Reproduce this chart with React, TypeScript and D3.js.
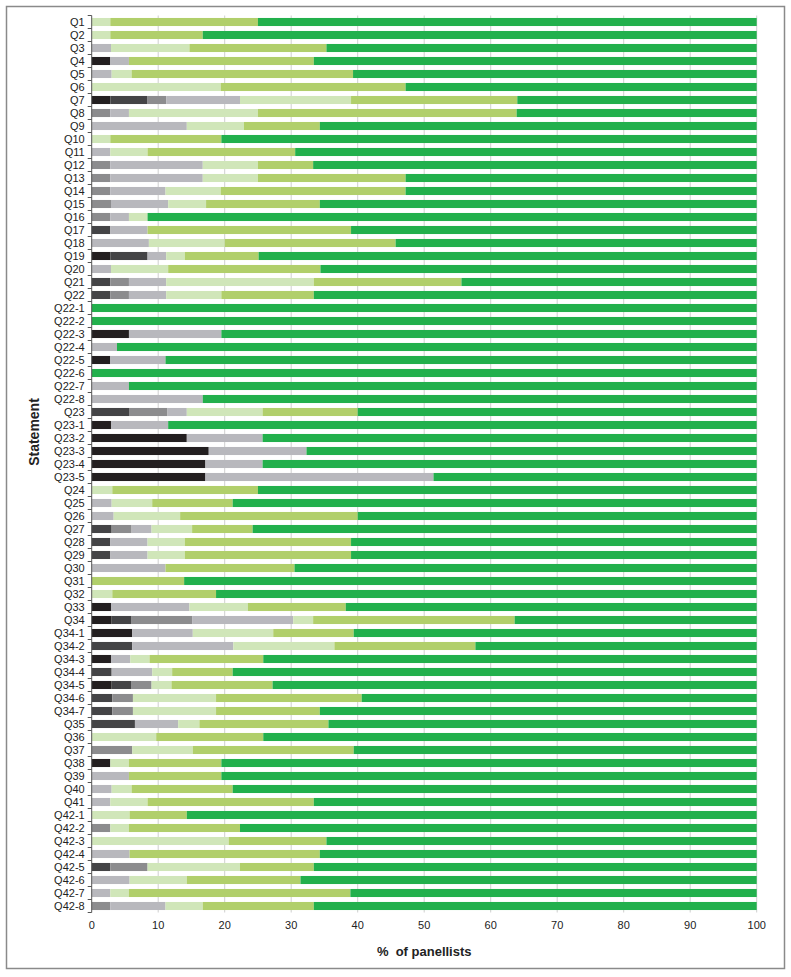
import React from "react";
import * as d3 from "d3";

const categories = [
  "Q1","Q2","Q3","Q4","Q5","Q6","Q7","Q8","Q9","Q10","Q11","Q12","Q13","Q14","Q15","Q16","Q17","Q18","Q19","Q20","Q21","Q22",
  "Q22-1","Q22-2","Q22-3","Q22-4","Q22-5","Q22-6","Q22-7","Q22-8",
  "Q23","Q23-1","Q23-2","Q23-3","Q23-4","Q23-5",
  "Q24","Q25","Q26","Q27","Q28","Q29","Q30","Q31","Q32","Q33","Q34",
  "Q34-1","Q34-2","Q34-3","Q34-4","Q34-5","Q34-6","Q34-7",
  "Q35","Q36","Q37","Q38","Q39","Q40","Q41",
  "Q42-1","Q42-2","Q42-3","Q42-4","Q42-5","Q42-6","Q42-7","Q42-8",
];

// seven response levels, from most negative (black) to most positive (green)
const level1 = [0,0,0,2.8,0,0,2.8,0,0,0,0,0,0,0,0,0,0,0,2.8,0,0,0, 0,0,5.6,0,2.8,0,0,0, 0,2.9,14.3,17.6,17.1,17.1, 0,0,0,0,0,0,0,0,0,2.9,3.0, 6.1,0,2.9,0,3.0,0,0, 0,0,0,2.8,0,0,0, 0,0,0,0,0,0,0,0];
const level2 = [0,0,0,0,0,0,5.6,0,0,0,0,0,0,0,0,0,2.8,0,5.6,0,2.8,2.8, 0,0,0,0,0,0,0,0, 5.7,0,0,0,0,0, 0,0,0,3.0,2.8,2.8,0,0,0,0,3.0, 0,6.1,0,3.0,3.0,3.1,3.1, 6.5,0,0,0,0,0,0, 0,0,0,0,2.8,0,0,0];
const level3 = [0,0,0,0,0,0,2.8,2.8,0,0,0,2.8,2.8,2.8,2.9,2.8,0,0,0,0,2.8,2.8, 0,0,0,0,0,0,0,0, 5.7,0,0,0,0,0, 0,0,0,3.0,0,0,0,0,0,0,9.1, 0,0,0,0,3.0,3.1,3.1, 0,0,6.1,0,0,0,0, 0,2.8,0,0,5.6,0,0,2.8];
const level4 = [0,0,2.9,2.8,3.0,0,11.1,2.8,14.3,0,2.8,13.9,13.9,8.3,8.6,2.8,5.6,8.6,2.8,2.9,5.6,5.6, 0,0,13.9,3.8,8.3,0,5.6,16.7, 2.9,8.6,11.4,14.7,8.6,34.3, 0,3.0,3.3,3.0,5.6,5.6,11.1,0,0,11.8,15.2, 9.1,15.2,2.9,6.1,0,0,0, 6.5,0,0,0,5.6,3.0,2.8, 0,0,0,5.7,0,5.7,2.8,8.3];
const level5 = [2.8,2.8,11.8,0,3.0,19.4,16.7,19.4,8.6,2.8,5.6,8.3,8.3,8.3,5.7,2.8,0,11.4,2.8,8.6,22.2,8.3, 0,0,0,0,0,0,0,0, 11.4,0,0,0,0,0, 3.1,6.1,10.0,6.1,5.6,5.6,0,0,3.1,8.8,3.0, 12.1,15.2,2.9,3.0,3.0,12.5,12.5, 3.2,9.7,9.1,2.8,0,3.0,5.6, 5.7,2.8,20.6,0,13.9,8.6,2.8,5.6];
const level6 = [22.2,13.9,20.6,27.8,33.3,27.8,25.0,38.9,11.4,16.7,22.2,8.3,22.2,27.8,17.1,0,30.6,25.7,11.1,22.9,22.2,13.9, 0,0,0,0,0,0,0,0, 14.3,0,0,0,0,0, 21.9,12.1,26.7,9.1,25.0,25.0,19.4,13.9,15.6,14.7,30.3, 12.1,21.2,17.1,9.1,15.2,21.9,15.6, 19.4,16.1,24.2,13.9,13.9,15.2,25.0, 8.6,16.7,14.7,28.6,11.1,17.1,33.3,16.7];

const xTicks = [0,10,20,30,40,50,60,70,80,90,100];
const colors = ["#231f20","#444446","#8c8c8e","#b8b8bd","#d0e6b9","#b1cf6b","#22b04c"];

export default function App() {
  const W = 791, H = 977;
  const left = 91.7, right = 756.7, top = 15.5, bottom = 912.5;
  const x = d3.scaleLinear().domain([0, 100]).range([left, right]);
  const y = d3.scaleBand().domain(categories).range([top, bottom]).paddingInner(0.38).paddingOuter(0.19);
  const levels = [level1, level2, level3, level4, level5, level6];
  const rows = categories.map((c, i) => {
    const vals = levels.map(l => l[i]);
    const sum = d3.sum(vals);
    const row: any = { cat: c };
    vals.forEach((v, k) => (row["s" + k] = v));
    row["s6"] = Math.max(0, 100 - sum);
    return row;
  });
  const keys = ["s0","s1","s2","s3","s4","s5","s6"];
  const stack = d3.stack().keys(keys)(rows as any);
  const step = y.step();
  const font = "'Liberation Sans', Arial, sans-serif";

  return (
    <svg width={W} height={H} style={{ position: "absolute", left: 0, top: 0, background: "#fff" }}>
      <rect x={6.5} y={6.5} width={778} height={962} fill="#fff" stroke="#8a8a8a" strokeWidth={1.5} />
      {xTicks.filter(t => t > 0).map(t => (
        <line key={"g" + t} x1={x(t)} x2={x(t)} y1={top} y2={bottom} stroke="#cfcfcf" strokeWidth={1} />
      ))}
      {stack.map((layer, k) => (
        <g key={k} fill={colors[k]}>
          {layer.map((d: any, i: number) => {
            const w = x(d[1]) - x(d[0]);
            if (w <= 0.01) return null;
            return <rect key={i} x={x(d[0])} y={y(categories[i])!} width={w} height={y.bandwidth()} />;
          })}
        </g>
      ))}
      <line x1={left} x2={left} y1={top} y2={bottom} stroke="#555" strokeWidth={1} />
      {d3.range(categories.length + 1).map(i => (
        <line key={"t" + i} x1={left - 4} x2={left} y1={top + i * step} y2={top + i * step} stroke="#555" strokeWidth={1} />
      ))}
      {categories.map(c => (
        <text key={c} x={left - 7} y={y(c)! + y.bandwidth() / 2} dy="0.35em" textAnchor="end" fontSize={11} fontFamily={font} fill="#222">{c}</text>
      ))}
      {xTicks.map(t => (
        <text key={"x" + t} x={x(t)} y={929} textAnchor="middle" fontSize={11} fontFamily={font} fill="#222">{t}</text>
      ))}
      <text x={(left + right) / 2} y={956} textAnchor="middle" fontSize={13} fontWeight="bold" fontFamily={font} fill="#222" style={{ whiteSpace: "pre" }}>{"%  of panellists"}</text>
      <text transform={`translate(39,432) rotate(-90)`} textAnchor="middle" fontSize={14} fontWeight="bold" fontFamily={font} fill="#222">Statement</text>
    </svg>
  );
}
